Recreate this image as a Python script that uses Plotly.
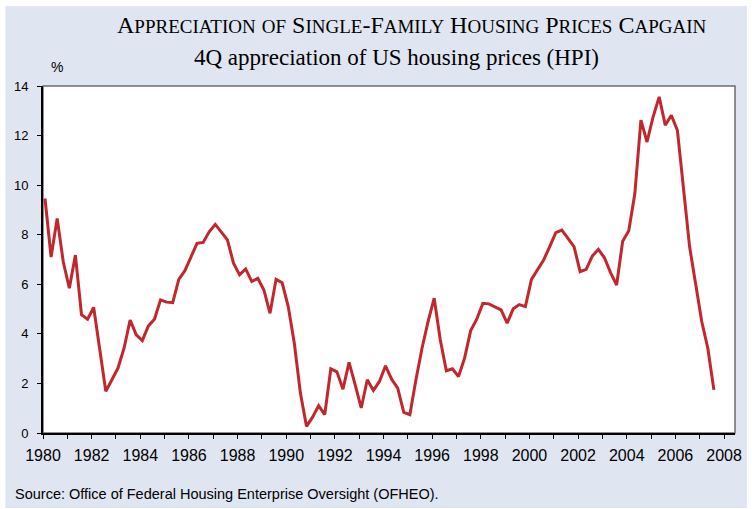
import plotly.graph_objects as go

# 4Q appreciation of the OFHEO house price index, quarterly 1980Q1 - 2007Q3 (%)
start_year = 1980
hpi = [
    9.46, 7.10, 8.66, 6.91, 5.84, 7.18, 4.77, 4.59, 5.07, 3.36,
    1.68, 2.15, 2.62, 3.42, 4.56, 3.96, 3.73, 4.32, 4.59, 5.37,
    5.28, 5.26, 6.20, 6.55, 7.09, 7.65, 7.69, 8.12, 8.42, 8.08,
    7.79, 6.85, 6.38, 6.62, 6.11, 6.24, 5.77, 4.83, 6.20, 6.06,
    5.10, 3.62, 1.61, 0.27, 0.64, 1.10, 0.74, 2.59, 2.47, 1.77,
    2.85, 1.95, 1.01, 2.15, 1.72, 2.08, 2.71, 2.17, 1.81, 0.83,
    0.74, 2.15, 3.42, 4.50, 5.44, 3.76, 2.51, 2.59, 2.28, 3.02,
    4.13, 4.59, 5.23, 5.21, 5.10, 4.97, 4.43, 5.01, 5.18, 5.10,
    6.20, 6.58, 6.98, 7.52, 8.08, 8.19, 7.85, 7.52, 6.51, 6.60,
    7.14, 7.41, 7.07, 6.47, 5.97, 7.74, 8.16, 9.66, 12.62, 11.74,
    12.75, 13.56, 12.42, 12.82, 12.21, 9.93, 7.52, 6.01, 4.50, 3.42,
    1.74,
]
quarter_pos = [start_year + (i + 0.33) / 4 for i in range(len(hpi))]

year_ticks = list(range(1980, 2009, 2))
pct_ticks = list(range(0, 15, 2))

panel_blue = '#dfe6f1'
red = '#c1272d'

fig = go.Figure(go.Scatter(
    x=quarter_pos,
    y=hpi,
    mode='lines',
    line=dict(color=red, width=3),
    hoverinfo='skip',
))

W, H = 752, 509
ml, mr, mt, mb = 43, 10, 86, 76
pw, ph = W - ml - mr, H - mt - mb

def px_x(v):
    return (v - ml) / pw

def px_y(v):
    return (H - mb - v) / ph

big = 24
small = 19
def sc(first, rest):
    return f"{first}<span style='font-size:{small}px'>{rest}</span>"

title = " ".join([
    sc('A', 'PPRECIATION'), sc('', 'OF'), sc('S', 'INGLE') + '-' + sc('F', 'AMILY'),
    sc('H', 'OUSING'), sc('P', 'RICES'), sc('C', 'APGAIN'),
])

fig.update_layout(
    width=W, height=H,
    margin=dict(l=ml, r=mr, t=mt, b=mb),
    paper_bgcolor='white',
    plot_bgcolor='white',
    showlegend=False,
    font=dict(family='Liberation Sans, Arial, sans-serif', color='black'),
    xaxis=dict(
        range=[1980, 2008.45],
        tickvals=year_ticks,
        ticks='outside', ticklen=4, tickwidth=1, tickcolor='black',
        minor=dict(dtick=1, tick0=1980, ticks='outside', ticklen=4, tickcolor='black'),
        showline=True, linecolor='black', linewidth=2,
        showgrid=False, zeroline=False,
        tickfont=dict(size=16),
        ticklabelstandoff=3,
    ),
    yaxis=dict(
        range=[0, 14],
        tickvals=pct_ticks,
        ticks='outside', ticklen=4, tickwidth=1, tickcolor='black',
        showline=True, linecolor='black', linewidth=2,
        showgrid=False, zeroline=False,
        tickfont=dict(size=13),
        ticklabelstandoff=6,
    ),
    shapes=[
        dict(type='rect', xref='paper', yref='paper', layer='below',
             x0=px_x(5), x1=px_x(W + 2), y0=px_y(H - 1), y1=px_y(6),
             fillcolor=panel_blue, line=dict(width=0)),
        dict(type='rect', xref='paper', yref='paper', layer='below',
             x0=0, x1=1, y0=0, y1=1,
             fillcolor='white', line=dict(color='#6d6d6d', width=1.5)),
    ],
    annotations=[
        dict(text=title, xref='paper', yref='paper', x=px_x(416), y=px_y(25),
             xanchor='center', yanchor='middle', showarrow=False,
             font=dict(family='Liberation Serif, Times New Roman, serif', size=big)),
        dict(text='4Q appreciation of US housing prices (HPI)', xref='paper', yref='paper',
             x=px_x(400), y=px_y(58), xanchor='center', yanchor='middle', showarrow=False,
             font=dict(family='Liberation Serif, Times New Roman, serif', size=23)),
        dict(text='%', xref='paper', yref='paper', x=px_x(49), y=px_y(67),
             xanchor='left', yanchor='middle', showarrow=False, font=dict(size=14)),
        dict(text='Source: Office of Federal Housing Enterprise Oversight (OFHEO).',
             xref='paper', yref='paper', x=px_x(13), y=px_y(494),
             xanchor='left', yanchor='middle', showarrow=False, font=dict(size=14.5)),
    ],
)

fig.write_html("out.html", config={'displayModeBar': False},
               post_script="document.body.style.margin='0';")
